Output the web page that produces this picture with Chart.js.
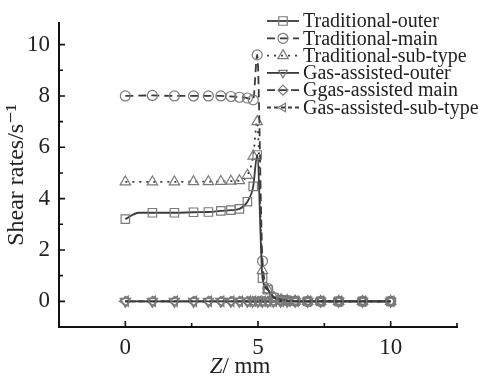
<!DOCTYPE html>
<html>
<head>
<meta charset="utf-8">
<script src="https://cdn.jsdelivr.net/npm/chart.js@4"></script>
<style>
  html, body { margin: 0; padding: 0; background: #fff; }
  #wrap { width: 484px; height: 376px; }
</style>
</head>
<body>
<div id="wrap"><canvas id="chart" width="484" height="376"></canvas></div>
<script>
// Shear rate along Z, traditional vs gas-assisted

const zOuter = [0, 0.5, 1.02, 1.85, 2.57, 3.13, 3.6, 3.98, 4.3, 4.6, 4.82, 4.97, 5.17, 5.37, 5.6, 5.87, 6.1, 6.4, 6.87, 7.36, 8.04, 8.94, 10];
const zTrad = [0, 1.02, 1.85, 2.57, 3.13, 3.6, 3.98, 4.3, 4.6, 4.82, 4.97, 5.17, 5.37, 5.6, 5.87, 6.1, 6.4, 6.87, 7.36, 8.04, 8.94, 10];
const zGas = [0, 1.02, 1.85, 2.57, 3.13, 3.6, 3.98, 4.3, 4.6, 4.8, 5.0, 5.17, 5.37, 5.58, 5.85, 6.1, 6.4, 6.87, 7.36, 8.04, 8.94, 10];

const tradOuter = [3.2, 3.45, 3.45, 3.45, 3.47, 3.48, 3.52, 3.55, 3.6, 3.88, 4.48, 5.7, 0.9, 0.45, 0.15, 0.06, 0.03, 0.01, 0, 0, 0, 0, 0];
const tradMain = [8.0, 8.02, 8.0, 8.0, 8.0, 8.0, 7.98, 7.95, 7.92, 7.85, 9.6, 1.57, 0.5, 0.15, 0.06, 0.03, 0.01, 0, 0, 0, 0, 0];
const tradSub = [4.65, 4.65, 4.65, 4.66, 4.66, 4.67, 4.68, 4.7, 4.91, 5.66, 7.0, 1.2, 0.45, 0.15, 0.06, 0.03, 0.01, 0, 0, 0, 0, 0];
const gasOuter = [0, 0, 0, 0, 0, 0, 0, 0, 0, 0, 0, 0, 0, 0, 0, 0, 0, 0, 0, 0, 0, 0];
const gasMain = [0, 0, 0, 0, 0, 0, 0, 0, 0, 0, 0, 0, 0, 0, 0, 0, 0, 0, 0, 0, 0, 0];
const gasSub = [0, 0, 0, 0, 0, 0, 0, 0, 0, 0, 0, 0, 0, 0, 0, 0, 0, 0, 0, 0, 0, 0];

const seriesNames = ['Traditional-outer', 'Traditional-main', 'Traditional-sub-type',
  'Gas-assisted-outer', 'Ggas-assisted main', 'Gas-assisted-sub-type'];

const xTicks = [0, 5, 10];
const xMinor = [2.5, 7.5, 12.5];
const yTicks = [0, 2, 4, 6, 8, 10];
const yMinor = [1, 3, 5, 7, 9];

const SERIF = '"Liberation Serif", "DejaVu Serif", serif';
const LINE = '#3a3a3a';
const MARK = '#7a7a7a';

function pts(xs, ys) {
  return xs.map((x, i) => ({ x: x, y: ys[i] }));
}

function series(label, data, opts) {
  return Object.assign({
    label: label,
    data: data,
    borderColor: LINE,
    borderWidth: 1.8,
    pointBorderColor: MARK,
    pointBackgroundColor: 'rgba(0,0,0,0)',
    pointBorderWidth: 1.2,
    cubicInterpolationMode: 'monotone',
    fill: false
  }, opts);
}

// inward tick marks + legend with line samples + italic x title
const decor = {
  id: 'decor',
  afterDraw(chart) {
    const ctx = chart.ctx;
    const xs = chart.scales.x, ys = chart.scales.y;
    ctx.save();
    ctx.strokeStyle = '#111';
    ctx.lineWidth = 1.6;
    ctx.beginPath();
    yTicks.forEach(v => { const p = ys.getPixelForValue(v); ctx.moveTo(xs.left, p); ctx.lineTo(xs.left + 6, p); });
    yMinor.forEach(v => { const p = ys.getPixelForValue(v); ctx.moveTo(xs.left, p); ctx.lineTo(xs.left + 4, p); });
    xTicks.forEach(v => { const p = xs.getPixelForValue(v); ctx.moveTo(p, ys.bottom); ctx.lineTo(p, ys.bottom - 6); });
    xMinor.forEach(v => { const p = xs.getPixelForValue(v); ctx.moveTo(p, ys.bottom); ctx.lineTo(p, ys.bottom - 4); });
    ctx.stroke();

    // legend
    ctx.font = '20px ' + SERIF;
    ctx.textBaseline = 'middle';
    ctx.textAlign = 'left';
    chart.data.datasets.forEach((ds, i) => {
      const y = 21 + i * 17.3;
      ctx.strokeStyle = LINE;
      ctx.lineWidth = ds.borderWidth;
      ctx.setLineDash(ds.borderDash || []);
      ctx.beginPath();
      ctx.moveTo(267, y);
      ctx.lineTo(299, y);
      ctx.stroke();
      ctx.setLineDash([]);
      ctx.strokeStyle = MARK;
      ctx.fillStyle = 'rgba(0,0,0,0)';
      ctx.lineWidth = ds.pointBorderWidth;
      Chart.helpers.drawPoint(ctx, {
        pointStyle: ds.pointStyle,
        radius: ds.legendRadius,
        rotation: ds.pointRotation || 0,
        borderWidth: ds.pointBorderWidth
      }, 283, y);
      ctx.fillStyle = '#222';
      ctx.fillText(ds.label, 303, y + 1);
    });

    // x title with italic Z
    ctx.fillStyle = '#222';
    ctx.textBaseline = 'alphabetic';
    ctx.font = 'italic 23px ' + SERIF;
    const zw = ctx.measureText('Z').width;
    ctx.font = '23px ' + SERIF;
    const rest = '/ mm';
    const total = zw + ctx.measureText(rest).width;
    const x0 = 240 - total / 2;
    ctx.font = 'italic 23px ' + SERIF;
    ctx.fillText('Z', x0, 373);
    ctx.font = '23px ' + SERIF;
    ctx.fillText(rest, x0 + zw, 373);
    ctx.restore();
  }
};

new Chart(document.getElementById('chart').getContext('2d'), {
  type: 'line',
  data: {
    datasets: [
      series(seriesNames[0], pts(zOuter, tradOuter), {
        pointStyle: 'rect', pointRadius: c => (c.dataIndex === 1 ? 0 : 6), legendRadius: 6
      }),
      series(seriesNames[1], pts(zTrad, tradMain), {
        pointStyle: 'circle', pointRadius: 5, legendRadius: 5, borderDash: [8, 5]
      }),
      series(seriesNames[2], pts(zTrad, tradSub), {
        pointStyle: 'triangle', pointRadius: 6, legendRadius: 6, borderDash: [2, 5]
      }),
      series(seriesNames[3], pts(zGas, gasOuter), {
        pointStyle: 'triangle', pointRotation: 180, pointRadius: 6, legendRadius: 5
      }),
      series(seriesNames[4], pts(zGas, gasMain), {
        pointStyle: 'rectRot', pointRadius: 5, legendRadius: 5, borderDash: [8, 4]
      }),
      series(seriesNames[5], pts(zGas, gasSub), {
        pointStyle: 'triangle', pointRotation: 270, pointRadius: 6, legendRadius: 5, borderDash: [4, 3]
      })
    ]
  },
  options: {
    responsive: false,
    animation: false,
    layout: { padding: { top: 9, right: 27, left: 0, bottom: 0 } },
    plugins: {
      legend: { display: false },
      tooltip: { enabled: false }
    },
    scales: {
      x: {
        type: 'linear',
        min: -2.5,
        max: 12.5,
        afterBuildTicks: s => { s.ticks = xTicks.map(v => ({ value: v })); },
        afterFit: s => { s.height = 49; },
        grid: { drawOnChartArea: false, drawTicks: false },
        border: { display: true, color: '#111', width: 2 },
        ticks: { color: '#222', padding: 7, font: { family: SERIF, size: 23 }, maxRotation: 0 }
      },
      y: {
        min: -1,
        max: 10.85,
        afterBuildTicks: s => { s.ticks = yTicks.map(v => ({ value: v })); },
        afterFit: s => { s.width = 59; },
        grid: { drawOnChartArea: false, drawTicks: false },
        border: { display: true, color: '#111', width: 2 },
        ticks: { color: '#222', padding: 9, font: { family: SERIF, size: 23 } },
        title: {
          display: true,
          text: 'Shear rates/s\u207B\u00B9',
          color: '#222',
          font: { family: SERIF, size: 24 },
          padding: { top: 2, bottom: 0 }
        }
      }
    }
  },
  plugins: [decor]
});
</script>
</body>
</html>
